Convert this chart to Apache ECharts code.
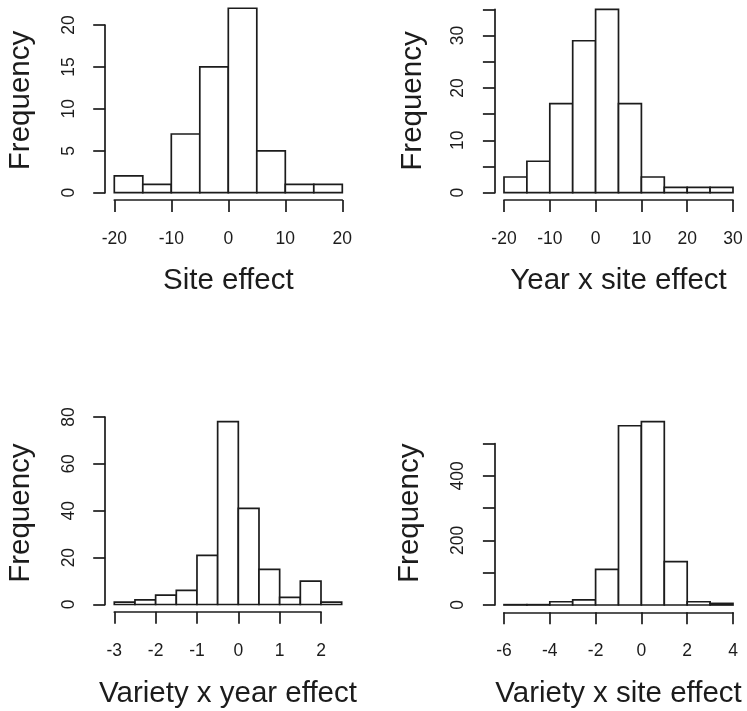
<!DOCTYPE html>
<html>
<head>
<meta charset="utf-8">
<script src="https://cdn.jsdelivr.net/npm/echarts@6/dist/echarts.min.js"></script>
<style>
  html, body { margin: 0; padding: 0; background: #ffffff; }
  #chart { width: 747px; height: 711px; }
</style>
</head>
<body>
<div id="chart"></div>
<script>
// Histogram bins (break points) and counts for each effect
const siteBreaks = [-20, -15, -10, -5, 0, 5, 10, 15, 20];
const siteCounts = [2, 1, 7, 15, 22, 5, 1, 1];

const yearSiteBreaks = [-20, -15, -10, -5, 0, 5, 10, 15, 20, 25, 30];
const yearSiteCounts = [3, 6, 17, 29, 35, 17, 3, 1, 1, 1];

const varYearBreaks = [-3, -2.5, -2, -1.5, -1, -0.5, 0, 0.5, 1, 1.5, 2, 2.5];
const varYearCounts = [1, 2, 4, 6, 21, 78, 41, 15, 3, 10, 1];

const varSiteBreaks = [-6, -5, -4, -3, -2, -1, 0, 1, 2, 3, 4];
const varSiteCounts = [1, 1, 10, 16, 110, 555, 568, 134, 10, 5];

// Labelled frequency ticks (other ticks are drawn without text)
const siteFreqLabels = [0, 5, 10, 15, 20];
const yearSiteFreqLabels = [0, 10, 20, 30];
const varYearFreqLabels = [0, 20, 40, 60, 80];
const varSiteFreqLabels = [0, 200, 400];

// Axis titles
const xTitles = ['Site effect', 'Year x site effect', 'Variety x year effect', 'Variety x site effect'];
const yTitle = 'Frequency';

const INK = '#1c1c1c';
const FONT = '"Liberation Sans", Arial, Helvetica, sans-serif';

const panels = [
  { breaks: siteBreaks, counts: siteCounts, freqLabels: siteFreqLabels,
    x: { min: -20, max: 20, interval: 10 }, y: { min: 0, max: 20, interval: 5 },
    box: { left: 114.3, top: 25, width: 228, height: 167.7 } },
  { breaks: yearSiteBreaks, counts: yearSiteCounts, freqLabels: yearSiteFreqLabels,
    x: { min: -20, max: 30, interval: 10 }, y: { min: 0, max: 35, interval: 5 },
    box: { left: 504, top: 9.3, width: 229, height: 183.4 } },
  { breaks: varYearBreaks, counts: varYearCounts, freqLabels: varYearFreqLabels,
    x: { min: -3, max: 2, interval: 1 }, y: { min: 0, max: 80, interval: 20 },
    box: { left: 114.3, top: 417, width: 206.7, height: 187.5 } },
  { breaks: varSiteBreaks, counts: varSiteCounts, freqLabels: varSiteFreqLabels,
    x: { min: -6, max: 4, interval: 2 }, y: { min: 0, max: 500, interval: 100 },
    box: { left: 504, top: 443.5, width: 229, height: 161.5 } }
];

const lineStyle = { color: INK, width: 1.7 };
const grid = [], xAxis = [], yAxis = [], series = [];

panels.forEach((p, i) => {
  grid.push({ left: p.box.left, top: p.box.top, width: p.box.width, height: p.box.height, containLabel: false });

  // Axis titles are centred on the full extent of the bars, not only the labelled axis span
  const xPx = p.box.width / (p.x.max - p.x.min);
  const yPx = p.box.height / (p.y.max - p.y.min);
  const dataXMid = (p.breaks[0] + p.breaks[p.breaks.length - 1]) / 2;
  const xShift = (dataXMid - (p.x.min + p.x.max) / 2) * xPx;
  const dataYMid = Math.max(...p.counts) / 2;
  const yShift = (dataYMid - (p.y.min + p.y.max) / 2) * yPx;

  xAxis.push({
    gridIndex: i, type: 'value', min: p.x.min, max: p.x.max, interval: p.x.interval,
    offset: 7.3,
    axisLine: { show: true, onZero: false, lineStyle },
    axisTick: { show: true, length: 12, lineStyle },
    axisLabel: { margin: 30, fontSize: 17.5, color: INK, fontFamily: FONT },
    splitLine: { show: false },
    name: xTitles[i], nameLocation: 'middle', nameGap: [66, 66, 67, 67][i],
    nameTextStyle: {
      fontSize: 29.5, color: INK, fontFamily: FONT,
      padding: xShift >= 0 ? [0, 0, 0, 2 * xShift] : [0, -2 * xShift, 0, 0]
    }
  });

  const yGap = [69, 67, 69, 70][i];
  yAxis.push({
    gridIndex: i, type: 'value', min: p.y.min, max: p.y.max, interval: p.y.interval,
    offset: 9.1,
    axisLine: { show: true, onZero: false, lineStyle },
    axisTick: { show: true, length: 12, lineStyle },
    axisLabel: {
      margin: 27.5, fontSize: 17.5, color: INK, fontFamily: FONT, rotate: 90,
      formatter: v => (p.freqLabels.indexOf(v) >= 0 ? String(v) : '')
    },
    splitLine: { show: false },
    name: yTitle, nameLocation: 'middle', nameGap: yGap,
    nameTextStyle: {
      fontSize: 29.5, color: INK, fontFamily: FONT,
      padding: yShift >= 0 ? [0, 0, 0, 2 * yShift] : [0, -2 * yShift, 0, 0]
    }
  });

  const data = p.counts.map((c, k) => [p.breaks[k], p.breaks[k + 1], c]);
  series.push({
    type: 'custom', xAxisIndex: i, yAxisIndex: i, clip: false,
    encode: { x: [0, 1], y: 2 },
    data,
    renderItem: (params, api) => {
      const tl = api.coord([api.value(0), api.value(2)]);
      const br = api.coord([api.value(1), 0]);
      return {
        type: 'rect',
        shape: { x: tl[0], y: tl[1], width: br[0] - tl[0], height: br[1] - tl[1] },
        style: { fill: '#ffffff', stroke: INK, lineWidth: 1.7 }
      };
    }
  });
});

const chart = echarts.init(document.getElementById('chart'), null, { renderer: 'canvas' });
chart.setOption({
  animation: false,
  backgroundColor: '#ffffff',
  grid, xAxis, yAxis, series
});
</script>
</body>
</html>
